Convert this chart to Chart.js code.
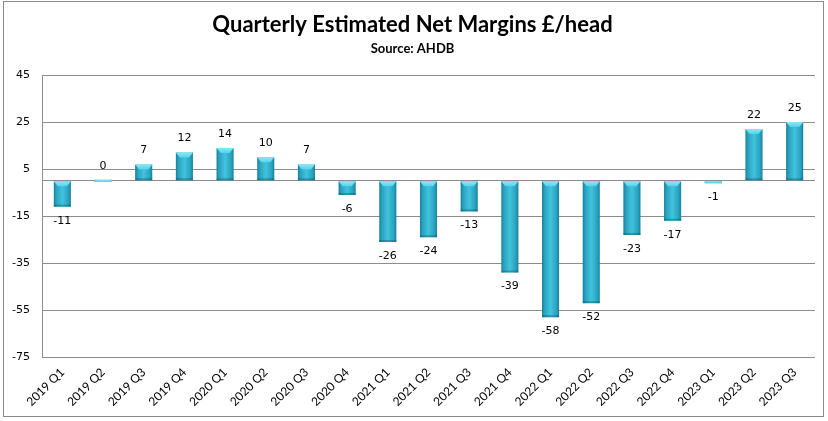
<!DOCTYPE html>
<html>
<head>
<meta charset="utf-8">
<script src="https://cdn.jsdelivr.net/npm/chart.js@4/dist/chart.umd.min.js"></script>
<style>
html,body{margin:0;padding:0;background:#fff;}
#wrap{position:relative;width:828px;height:421px;}
</style>
</head>
<body>
<div id="wrap"><canvas id="c" width="828" height="421"></canvas></div>
<script>
const categories = ["2019 Q1","2019 Q2","2019 Q3","2019 Q4","2020 Q1","2020 Q2","2020 Q3","2020 Q4","2021 Q1","2021 Q2","2021 Q3","2021 Q4","2022 Q1","2022 Q2","2022 Q3","2022 Q4","2023 Q1","2023 Q2","2023 Q3"];
const netMargins = [-11,0,7,12,14,10,7,-6,-26,-24,-13,-39,-58,-52,-23,-17,-1,22,25];
const yMin = -75, yMax = 45, yStep = 20;

const GRID = '#8c8c8c';
const BAR_FRAC = 0.42;

function barGradient(ctx){
  const chart = ctx.chart;
  const xs = chart.scales.x;
  if(!xs || !chart.chartArea || ctx.dataIndex === undefined) return '#33b0cc';
  const cx = xs.getPixelForValue(ctx.dataIndex);
  const catW = (chart.chartArea.right - chart.chartArea.left) / categories.length;
  const w = catW * BAR_FRAC;
  const g = chart.ctx.createLinearGradient(cx - w/2, 0, cx + w/2, 0);
  g.addColorStop(0, '#17809b');
  g.addColorStop(0.15, '#2aa2bf');
  g.addColorStop(0.5, '#41c3de');
  g.addColorStop(0.85, '#2aa2bf');
  g.addColorStop(1, '#17809b');
  return g;
}

const borderPlugin = {
  id: 'outerBorder',
  beforeDraw(chart){
    const c = chart.ctx;
    c.save();
    c.fillStyle = '#fff';
    c.fillRect(0,0,chart.width,chart.height);
    c.strokeStyle = '#8a8a8a';
    c.lineWidth = 1;
    c.strokeRect(3.5, 1.5, chart.width - 8, chart.height - 6);
    c.restore();
  }
};

const bevelAndLabels = {
  id: 'bevelAndLabels',
  afterDatasetsDraw(chart){
    const c = chart.ctx;
    const meta = chart.getDatasetMeta(0);
    c.save();
    meta.data.forEach((el, i) => {
      const top = Math.min(el.y, el.base);
      const bot = Math.max(el.y, el.base);
      const h = bot - top;
      const left = el.x - el.width/2, right = el.x + el.width/2;
      if (h > 6){
        c.fillStyle = 'rgba(10,70,90,0.35)';
        c.fillRect(left, bot - 2, el.width, 2);
      }
      const bh = Math.min(5, Math.max(h, 1.5));
      const inset = Math.min(4, el.width/4);
      const g = c.createLinearGradient(0, top, 0, top + bh);
      g.addColorStop(0, '#8ae8f5');
      g.addColorStop(1, '#55d2ea');
      c.fillStyle = g;
      c.beginPath();
      c.moveTo(left, top);
      c.lineTo(right, top);
      c.lineTo(right - (h > 6 ? inset : 0), top + bh);
      c.lineTo(left + (h > 6 ? inset : 0), top + bh);
      c.closePath();
      c.fill();
      const v = netMargins[i];
      c.fillStyle = '#000';
      c.font = '11px "DejaVu Sans", Verdana, sans-serif';
      c.textAlign = 'center';
      c.textBaseline = 'middle';
      const ly = v >= 0 ? top - 14 : bot + 14;
      c.fillText(String(v), el.x, ly);
    });
    c.restore();
  }
};

new Chart(document.getElementById('c'), {
  type: 'bar',
  data: {
    labels: categories,
    datasets: [{
      data: netMargins,
      backgroundColor: barGradient,
      borderWidth: 0,
      minBarLength: 2,
      barPercentage: BAR_FRAC,
      categoryPercentage: 1.0
    }]
  },
  options: {
    responsive: false,
    animation: false,
    devicePixelRatio: 1,
    layout: { padding: { left: 10, right: 13, top: 6, bottom: 4 } },
    plugins: {
      legend: { display: false },
      tooltip: { enabled: false },
      title: {
        display: true,
        text: 'Quarterly Estimated Net Margins £/head',
        color: '#000',
        font: { family: 'Lato, sans-serif', size: 22, weight: 'bold' },
        padding: { top: 6, bottom: 3 }
      },
      subtitle: {
        display: true,
        text: 'Source: AHDB',
        color: '#000',
        font: { family: 'Lato, sans-serif', size: 13, weight: 'bold' },
        padding: { top: 0, bottom: 18 }
      }
    },
    scales: {
      x: {
        grid: { display: false, drawTicks: false },
        border: { display: false },
        ticks: {
          color: '#000',
          font: { family: 'Lato, sans-serif', size: 12 },
          minRotation: 45, maxRotation: 45,
          padding: 8,
          autoSkip: false
        }
      },
      y: {
        min: yMin, max: yMax,
        afterBuildTicks(scale){
          const t = [];
          for (let v = yMin; v <= yMax; v += yStep) t.push({value: v});
          t.push({value: 0});
          scale.ticks = t;
        },
        afterFit(scale){ scale.width = 32; },
        grid: { color: GRID, drawTicks: false, lineWidth: 1 },
        border: { display: true, color: GRID },
        ticks: {
          color: '#000',
          font: { family: '"DejaVu Sans", Verdana, sans-serif', size: 11 },
          padding: 12,
          callback: (v) => v === 0 ? '' : String(v)
        }
      }
    }
  },
  plugins: [borderPlugin, bevelAndLabels]
});
</script>
</body>
</html>
